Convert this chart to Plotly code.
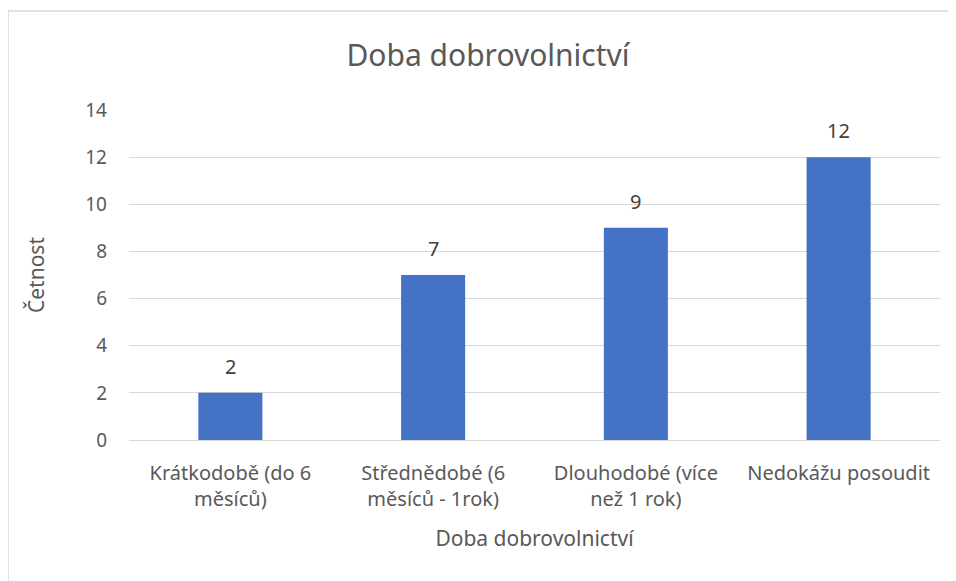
import plotly.graph_objects as go

categories = [
    "Krátkodobě (do 6<br>měsíců)",
    "Střednědobé (6<br>měsíců - 1rok)",
    "Dlouhodobé (více<br>než 1 rok)",
    "Nedokážu posoudit",
]
values = [2, 7, 9, 12]
y_ticks = [0, 2, 4, 6, 8, 10, 12, 14]

# page body has an 8px margin, so the figure is offset by (8, 8) in the window
OFF = 8
W, H = 956 - OFF, 581 - OFF
L, R, T, B = 129 - OFF, 16, 110 - OFF, 141
pw, ph = W - L - R, H - T - B

def px_x(px):  # window px -> paper
    return (px - OFF - L) / pw

def px_y(py):
    return (H - B - (py - OFF)) / ph

font = "Noto Sans"
grey = "#595959"

fig = go.Figure(go.Bar(
    x=categories, y=values,
    marker=dict(color="#4472C4", line=dict(width=0)),
    width=0.316,
    hoverinfo="x+y",
))

for c, v in zip(categories, values):
    fig.add_annotation(x=c, y=v, xref="x", yref="y", text=str(v), showarrow=False,
                       yanchor="bottom", yshift=11,
                       font=dict(family=font, size=20, color="#404040"))

fig.update_layout(
    width=W, height=H,
    margin=dict(l=L, r=R, t=T, b=B),
    paper_bgcolor="white", plot_bgcolor="white",
    font=dict(family=font, color=grey),
    title=dict(text="Doba dobrovolnictví", x=px_x(488), xref="paper", xanchor="center",
               y=1 - (55 - OFF) / H, yanchor="middle",
               font=dict(family=font, size=30, color=grey)),
    showlegend=False,
)
fig.update_xaxes(
    showgrid=False, showline=True, linecolor="#d9d9d9", linewidth=1,
    ticks="", ticklabelstandoff=15,
    tickfont=dict(family=font, size=20, color=grey),
    title=dict(text="Doba dobrovolnictví", font=dict(family=font, size=21, color=grey), standoff=20),
)
fig.update_yaxes(
    range=[0, 14], tickvals=y_ticks, showgrid=True, gridcolor="#d9d9d9", gridwidth=1,
    zeroline=False, showline=False, ticks="", ticklabelstandoff=21,
    tickfont=dict(family=font, size=19, color=grey),
    title=dict(text="Četnost", font=dict(family=font, size=21, color=grey), standoff=34),
)

# chart border (top and left visible)
fig.add_shape(type="line", xref="paper", yref="paper",
              x0=px_x(8), x1=px_x(956), y0=px_y(11), y1=px_y(11),
              line=dict(color="#d9d9d9", width=1.5))
fig.add_shape(type="line", xref="paper", yref="paper",
              x0=px_x(8), x1=px_x(8), y0=px_y(11), y1=px_y(581),
              line=dict(color="#d9d9d9", width=1.5))

fig.write_html("out.html")
